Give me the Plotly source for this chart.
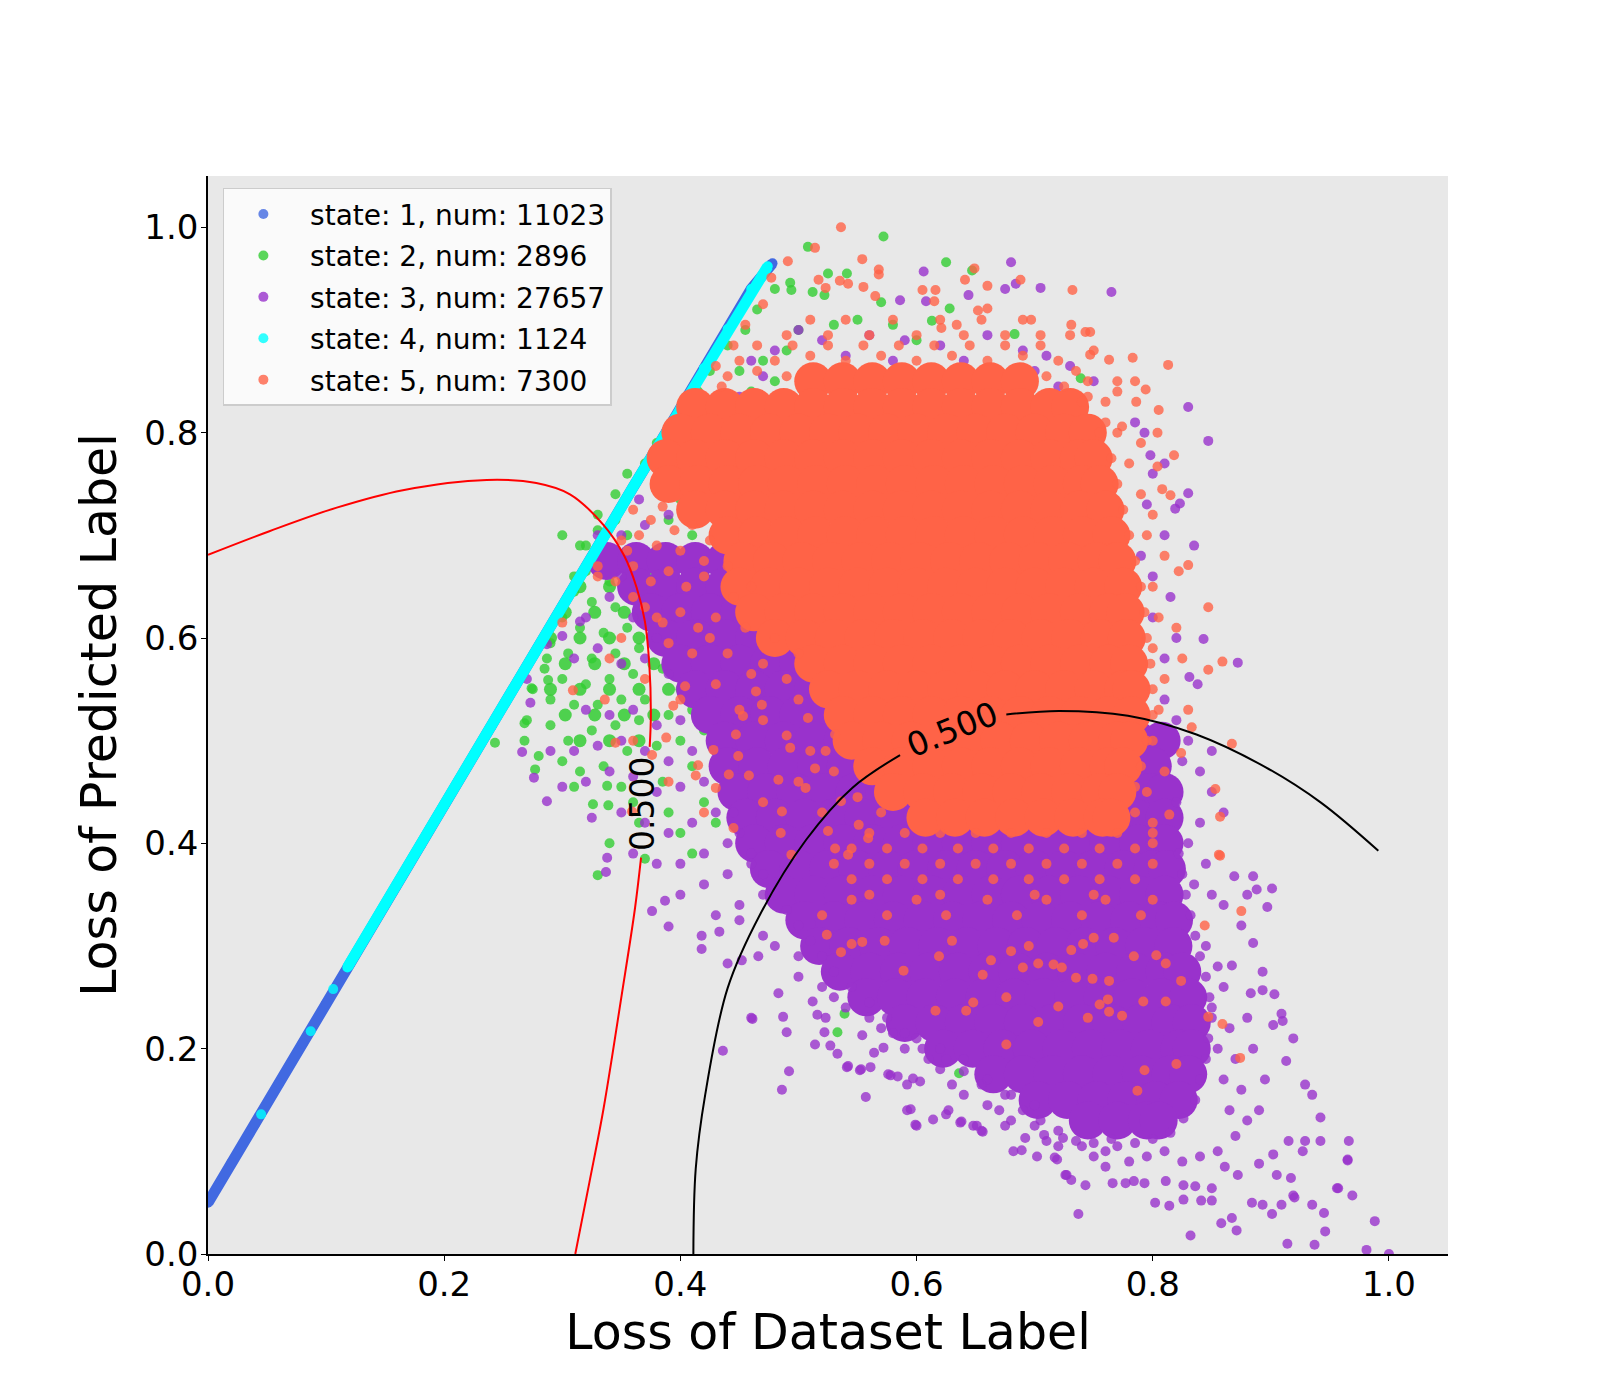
import plotly.graph_objects as go

# ---- data ----
legend_names = ["state: 1, num: 11023", "state: 2, num: 2896", "state: 3, num: 27657",
                "state: 4, num: 1124", "state: 5, num: 7300"]
colors = ["#4169E1", "#32CD32", "#9932CC", "#00FFFF", "#FF6347"]

tick_vals = [0.0, 0.2, 0.4, 0.6, 0.8, 1.0]
tick_text = ["0.0", "0.2", "0.4", "0.6", "0.8", "1.0"]

# state 1: the thin diagonal band (blue)
s1_x = [0.0, 0.02, 0.04, 0.06, 0.08, 0.10, 0.12, 0.14, 0.16, 0.18, 0.20, 0.22, 0.24,
        0.26, 0.28, 0.30, 0.32, 0.34, 0.36, 0.38, 0.40, 0.42, 0.44, 0.46, 0.478]
s1_y = [0.05, 0.089, 0.127, 0.166, 0.205, 0.244, 0.282, 0.321, 0.36, 0.398, 0.437, 0.476, 0.514,
        0.553, 0.592, 0.631, 0.669, 0.708, 0.747, 0.785, 0.824, 0.863, 0.901, 0.94, 0.965]

# state 4: the cyan band on top of it
s4_x = [0.118, 0.14, 0.16, 0.18, 0.20, 0.22, 0.24, 0.26, 0.28, 0.30, 0.32, 0.34,
        0.36, 0.38, 0.40, 0.42, 0.44, 0.46, 0.474]
s4_y = [0.279, 0.321, 0.36, 0.398, 0.437, 0.476, 0.514, 0.553, 0.592, 0.631, 0.669, 0.708,
        0.747, 0.785, 0.824, 0.863, 0.901, 0.94, 0.962]
s4_dots = [(0.087, 0.217), (0.045, 0.136), (0.106, 0.258)]

# state 2 (green): the crowded part as rows (y, xs), then loose points
s2_core = [
    (0.65, [0.315, 0.34]),
    (0.625, [0.3025, 0.3275, 0.3525]),
    (0.60, [0.29, 0.315, 0.34, 0.365]),
    (0.575, [0.3025, 0.3275, 0.3525, 0.3775]),
    (0.55, [0.29, 0.315, 0.34, 0.365, 0.39]),
    (0.525, [0.3025, 0.3275, 0.3525, 0.3775]),
    (0.50, [0.315, 0.34, 0.365]),
]
s2_dots = [
    (0.572, 0.991), (0.508, 0.981), (0.625, 0.966), (0.647, 0.958), (0.525, 0.955), (0.541, 0.955),
    (0.493, 0.946), (0.494, 0.939), (0.512, 0.937), (0.522, 0.934), (0.570, 0.927), (0.628, 0.921),
    (0.613, 0.909), (0.683, 0.896), (0.739, 0.853),
    (0.48, 0.94), (0.465, 0.92), (0.455, 0.90), (0.44, 0.885), (0.425, 0.86), (0.415, 0.84), (0.40, 0.82),
    (0.39, 0.80), (0.38, 0.79), (0.37, 0.77), (0.355, 0.76), (0.345, 0.74), (0.33, 0.72), (0.32, 0.69),
    (0.31, 0.66), (0.50, 0.90), (0.53, 0.905), (0.55, 0.91), (0.58, 0.905), (0.60, 0.89), (0.49, 0.88),
    (0.47, 0.87), (0.45, 0.86), (0.48, 0.85), (0.46, 0.84), (0.44, 0.83), (0.43, 0.81), (0.45, 0.80),
    (0.42, 0.79), (0.44, 0.77), (0.41, 0.76), (0.43, 0.745), (0.40, 0.735), (0.42, 0.72), (0.39, 0.715),
    (0.41, 0.70),
    (0.300, 0.700), (0.315, 0.690), (0.330, 0.705), (0.345, 0.715), (0.355, 0.70), (0.335, 0.68),
    (0.350, 0.675), (0.365, 0.685), (0.320, 0.665), (0.340, 0.655), (0.36, 0.655), (0.375, 0.665),
    (0.31, 0.645), (0.325, 0.635), (0.345, 0.63), (0.37, 0.635), (0.385, 0.64), (0.30, 0.62),
    (0.315, 0.61), (0.335, 0.605), (0.355, 0.61), (0.38, 0.615), (0.395, 0.62), (0.29, 0.595),
    (0.305, 0.585), (0.325, 0.58), (0.345, 0.585), (0.365, 0.59), (0.39, 0.59), (0.285, 0.57),
    (0.30, 0.56), (0.32, 0.555), (0.34, 0.56), (0.36, 0.565), (0.385, 0.57), (0.275, 0.55),
    (0.29, 0.54), (0.31, 0.535), (0.33, 0.535), (0.35, 0.54), (0.37, 0.54), (0.40, 0.55), (0.27, 0.52),
    (0.29, 0.515), (0.305, 0.50), (0.325, 0.51), (0.345, 0.515), (0.365, 0.52), (0.39, 0.525),
    (0.41, 0.53), (0.268, 0.50), (0.28, 0.485), (0.30, 0.48), (0.315, 0.47), (0.335, 0.475),
    (0.355, 0.49), (0.38, 0.495), (0.40, 0.50), (0.42, 0.51), (0.277, 0.472), (0.31, 0.455),
    (0.338, 0.456), (0.35, 0.455), (0.326, 0.438), (0.339, 0.437), (0.36, 0.44), (0.385, 0.46),
    (0.41, 0.475), (0.43, 0.49), (0.33, 0.369), (0.34, 0.40), (0.365, 0.42), (0.39, 0.43), (0.40, 0.41),
    (0.42, 0.44), (0.44, 0.46), (0.45, 0.48), (0.37, 0.385), (0.41, 0.39), (0.43, 0.42), (0.243, 0.498),
    (0.268, 0.517), (0.274, 0.551), (0.288, 0.559), (0.287, 0.58),
    (0.40, 0.57), (0.42, 0.58), (0.44, 0.60), (0.43, 0.55), (0.45, 0.56), (0.46, 0.60), (0.41, 0.62),
    (0.43, 0.64), (0.45, 0.66), (0.47, 0.68), (0.44, 0.70), (0.46, 0.72),
    (0.539, 0.234), (0.533, 0.216), (0.636, 0.176),
]

# state 3 (purple): solid body as rows (y, xs), then the loose points
s3_core = [
    (0.675, [0.3375, 0.3625, 0.3875, 0.4125, 0.4375]),
    (0.65, [0.3625, 0.3875, 0.4125, 0.4375, 0.4625]),
    (0.625, [0.375, 0.40, 0.425, 0.45, 0.475]),
    (0.60, [0.3875, 0.4125, 0.4375, 0.4625, 0.4875]),
    (0.575, [0.40, 0.425, 0.45, 0.475, 0.50, 0.525]),
    (0.55, [0.4125, 0.4375, 0.4625, 0.4875, 0.5125, 0.5375]),
    (0.525, [0.425, 0.45, 0.475, 0.50, 0.525, 0.55]),
    (0.50, [0.4375, 0.4625, 0.4875, 0.5125, 0.5375, 0.5625, 0.7875, 0.8075]),
    (0.475, [0.44, 0.465, 0.49, 0.515, 0.54, 0.565, 0.59, 0.775, 0.80]),
    (0.45, [0.4475, 0.4725, 0.4975, 0.5225, 0.5475, 0.5725, 0.5975, 0.7725, 0.7975, 0.81]),
    (0.425, [0.455, 0.48, 0.505, 0.53, 0.555, 0.58, 0.605, 0.63, 0.76, 0.785, 0.81]),
    (0.40, [0.4625, 0.4875, 0.5125, 0.5375, 0.5625, 0.5875, 0.6125, 0.6375, 0.6625, 0.6875, 0.7125,
            0.7375, 0.7625, 0.7875, 0.81]),
    (0.375, [0.475, 0.50, 0.525, 0.55, 0.575, 0.60, 0.625, 0.65, 0.675, 0.70, 0.725, 0.75, 0.775,
             0.80, 0.812]),
    (0.35, [0.4875, 0.5125, 0.5375, 0.5625, 0.5875, 0.6125, 0.6375, 0.6625, 0.6875, 0.7125, 0.7375,
            0.7625, 0.7875, 0.81]),
    (0.325, [0.505, 0.53, 0.555, 0.58, 0.605, 0.63, 0.655, 0.68, 0.705, 0.73, 0.755, 0.78, 0.805, 0.818]),
    (0.30, [0.5175, 0.5425, 0.5675, 0.5925, 0.6175, 0.6425, 0.6675, 0.6925, 0.7175, 0.7425, 0.7675,
            0.7925, 0.8175]),
    (0.275, [0.535, 0.56, 0.585, 0.61, 0.635, 0.66, 0.685, 0.71, 0.735, 0.76, 0.785, 0.81, 0.825]),
    (0.25, [0.5575, 0.5825, 0.6075, 0.6325, 0.6575, 0.6825, 0.7075, 0.7325, 0.7575, 0.7825, 0.8075, 0.83]),
    (0.225, [0.59, 0.615, 0.64, 0.665, 0.69, 0.715, 0.74, 0.765, 0.79, 0.815, 0.833]),
    (0.20, [0.6225, 0.6475, 0.6725, 0.6975, 0.7225, 0.7475, 0.7725, 0.7975, 0.8225, 0.833]),
    (0.175, [0.665, 0.69, 0.715, 0.74, 0.765, 0.79, 0.815, 0.83]),
    (0.15, [0.7025, 0.7275, 0.7525, 0.7775, 0.8025, 0.822]),
    (0.13, [0.745, 0.77, 0.795, 0.805]),
]
s3_dots = [
    (0.606, 0.957), (0.586, 0.929), (0.608, 0.928), (0.680, 0.966), (0.705, 0.941), (0.765, 0.937),
    (0.675, 0.94), (0.684, 0.945), (0.644, 0.934),
    (0.50, 0.90), (0.52, 0.89), (0.56, 0.895), (0.59, 0.89), (0.62, 0.885), (0.66, 0.895), (0.69, 0.88),
    (0.71, 0.875), (0.73, 0.865), (0.75, 0.85), (0.48, 0.88), (0.46, 0.87), (0.54, 0.875), (0.58, 0.87),
    (0.64, 0.87), (0.70, 0.86), (0.72, 0.845), (0.47, 0.855), (0.45, 0.835),
    (0.830, 0.825), (0.847, 0.792), (0.785, 0.81), (0.793, 0.80), (0.798, 0.778), (0.830, 0.741),
    (0.823, 0.731), (0.819, 0.726), (0.835, 0.69), (0.843, 0.599), (0.872, 0.576), (0.838, 0.555),
    (0.831, 0.562), (0.80, 0.76), (0.81, 0.70), (0.80, 0.66), (0.815, 0.64), (0.82, 0.60), (0.81, 0.58),
    (0.82, 0.52), (0.83, 0.50), (0.84, 0.47), (0.85, 0.45), (0.86, 0.43), (0.80, 0.62), (0.79, 0.68),
    (0.795, 0.73), (0.81, 0.77), (0.81, 0.54), (0.825, 0.48), (0.85, 0.49), (0.82, 0.44), (0.84, 0.42),
    (0.83, 0.40), (0.845, 0.38),
    (0.869, 0.368), (0.885, 0.368), (0.901, 0.356), (0.888, 0.355), (0.880, 0.350), (0.897, 0.338),
    (0.885, 0.303), (0.893, 0.275), (0.867, 0.281), (0.903, 0.253), (0.893, 0.257), (0.883, 0.254),
    (0.909, 0.234), (0.910, 0.227), (0.902, 0.223), (0.919, 0.21), (0.913, 0.188), (0.929, 0.165),
    (0.935, 0.155), (0.942, 0.133), (0.966, 0.11), (0.965, 0.092), (0.969, 0.057), (0.956, 0.064),
    (0.945, 0.040), (0.935, 0.048), (0.902, 0.097), (0.915, 0.11), (0.929, 0.11), (0.942, 0.11),
    (0.905, 0.077), (0.917, 0.074), (0.927, 0.10), (0.884, 0.05), (0.893, 0.048), (0.909, 0.048),
    (0.919, 0.057), (0.858, 0.030), (0.867, 0.035), (0.871, 0.023), (0.832, 0.018), (0.802, 0.05),
    (0.814, 0.047), (0.826, 0.053), (0.841, 0.052), (0.850, 0.052), (0.737, 0.039), (0.766, 0.069),
    (0.777, 0.069), (0.784, 0.071), (0.793, 0.069), (0.743, 0.067), (0.719, 0.092), (0.727, 0.077),
    (0.731, 0.072), (0.811, 0.071), (0.826, 0.067), (0.836, 0.066), (0.850, 0.064), (0.861, 0.085),
    (0.872, 0.077), (1.0, 0.0), (0.981, 0.004), (0.988, 0.032), (0.946, 0.022), (0.937, 0.009),
    (0.914, 0.010), (0.957, 0.064), (0.920, 0.055), (0.901, 0.039), (0.965, 0.091), (0.89, 0.088),
    (0.845, 0.30), (0.855, 0.28), (0.86, 0.26), (0.85, 0.24), (0.865, 0.22), (0.855, 0.20), (0.87, 0.19),
    (0.86, 0.17), (0.875, 0.16), (0.865, 0.14), (0.88, 0.13), (0.87, 0.115), (0.855, 0.10), (0.84, 0.095),
    (0.825, 0.09), (0.81, 0.10), (0.795, 0.095), (0.78, 0.09), (0.76, 0.085), (0.75, 0.095), (0.89, 0.14),
    (0.895, 0.17), (0.885, 0.20), (0.88, 0.23), (0.875, 0.32), (0.86, 0.34), (0.85, 0.35), (0.835, 0.36),
    (0.682, 0.10), (0.689, 0.101), (0.702, 0.095), (0.717, 0.094), (0.726, 0.077), (0.692, 0.113),
    (0.708, 0.116), (0.724, 0.113), (0.595, 0.141), (0.599, 0.126), (0.625, 0.136), (0.638, 0.129),
    (0.651, 0.125), (0.655, 0.120), (0.675, 0.125), (0.557, 0.153), (0.542, 0.183), (0.552, 0.179),
    (0.561, 0.182), (0.578, 0.174), (0.584, 0.173), (0.592, 0.165), (0.597, 0.171), (0.603, 0.168),
    (0.514, 0.204), (0.533, 0.195), (0.516, 0.233), (0.523, 0.23), (0.512, 0.246), (0.554, 0.213),
    (0.564, 0.196), (0.572, 0.201), (0.461, 0.229), (0.486, 0.16), (0.492, 0.178), (0.418, 0.297),
    (0.418, 0.310), (0.433, 0.314), (0.45, 0.325), (0.44, 0.283), (0.452, 0.286), (0.466, 0.290),
    (0.483, 0.254), (0.487, 0.231), (0.49, 0.216), (0.522, 0.216), (0.527, 0.203), (0.541, 0.182),
    (0.553, 0.18), (0.576, 0.175), (0.60, 0.125), (0.592, 0.14), (0.614, 0.131), (0.627, 0.14),
    (0.637, 0.128), (0.648, 0.125), (0.656, 0.119), (0.376, 0.334), (0.39, 0.319), (0.436, 0.198),
    (0.46, 0.23), (0.387, 0.344), (0.338, 0.386), (0.337, 0.372),
    (0.47, 0.31), (0.48, 0.30), (0.50, 0.29), (0.50, 0.27), (0.52, 0.26), (0.53, 0.25), (0.54, 0.24),
    (0.56, 0.23), (0.57, 0.22), (0.58, 0.215), (0.59, 0.20), (0.61, 0.19), (0.62, 0.18), (0.63, 0.165),
    (0.64, 0.155), (0.66, 0.145), (0.67, 0.14), (0.68, 0.13), (0.70, 0.125), (0.71, 0.11), (0.72, 0.105),
    (0.74, 0.105), (0.76, 0.10), (0.77, 0.105), (0.60, 0.21), (0.62, 0.20), (0.64, 0.19), (0.66, 0.17),
    (0.68, 0.155), (0.70, 0.145),
    (0.735, 0.11), (0.75, 0.108), (0.765, 0.112), (0.785, 0.108), (0.80, 0.112), (0.815, 0.118),
    (0.826, 0.132), (0.836, 0.15), (0.84, 0.17), (0.845, 0.19), (0.847, 0.21), (0.85, 0.23),
    (0.848, 0.25), (0.845, 0.27), (0.84, 0.29), (0.836, 0.31), (0.832, 0.33), (0.828, 0.35),
    (0.825, 0.37), (0.822, 0.39), (0.72, 0.12), (0.705, 0.13), (0.69, 0.14), (0.675, 0.155),
    (0.655, 0.165), (0.64, 0.178), (0.625, 0.19), (0.605, 0.2), (0.59, 0.215), (0.575, 0.23),
    (0.56, 0.245), (0.545, 0.26), (0.53, 0.275), (0.52, 0.29), (0.51, 0.305), (0.50, 0.32),
    (0.49, 0.335), (0.48, 0.35), (0.47, 0.37), (0.46, 0.39), (0.45, 0.41), (0.445, 0.43),
    (0.325, 0.425), (0.287, 0.441), (0.276, 0.464), (0.266, 0.489), (0.270, 0.560), (0.273, 0.537),
    (0.287, 0.594), (0.300, 0.602), (0.315, 0.616),
    (0.30, 0.63), (0.32, 0.62), (0.34, 0.64), (0.36, 0.62), (0.38, 0.60), (0.31, 0.58), (0.33, 0.59),
    (0.35, 0.575), (0.37, 0.58), (0.39, 0.565), (0.32, 0.53), (0.34, 0.525), (0.36, 0.53), (0.38, 0.515),
    (0.40, 0.52), (0.29, 0.49), (0.31, 0.49), (0.33, 0.495), (0.35, 0.50), (0.37, 0.49), (0.39, 0.48),
    (0.41, 0.49), (0.30, 0.455), (0.32, 0.46), (0.34, 0.47), (0.36, 0.465), (0.38, 0.45), (0.40, 0.455),
    (0.42, 0.46), (0.35, 0.43), (0.37, 0.42), (0.39, 0.41), (0.41, 0.42), (0.43, 0.43), (0.36, 0.39),
    (0.38, 0.38), (0.40, 0.38), (0.42, 0.39), (0.44, 0.40), (0.40, 0.35), (0.42, 0.36), (0.44, 0.37),
    (0.46, 0.38), (0.43, 0.33), (0.45, 0.34), (0.47, 0.35), (0.35, 0.66), (0.33, 0.70),
    (0.35, 0.70), (0.37, 0.71), (0.39, 0.72), (0.365, 0.735), (0.385, 0.745),
]

# state 5 (orange): solid body as rows (y, xs), then loose points
s5_core = [
    (0.85, [0.5125, 0.5375, 0.5625, 0.5875, 0.6125, 0.6375, 0.6625, 0.6875]),
    (0.825, [0.4125, 0.4375, 0.4625, 0.4875, 0.5125, 0.5375, 0.5625, 0.5875, 0.6125, 0.6375, 0.6625,
             0.6875, 0.7125, 0.73]),
    (0.80, [0.40, 0.425, 0.45, 0.475, 0.50, 0.525, 0.55, 0.575, 0.60, 0.625, 0.65, 0.675, 0.70, 0.725,
            0.745]),
    (0.775, [0.3875, 0.4125, 0.4375, 0.4625, 0.4875, 0.5125, 0.5375, 0.5625, 0.5875, 0.6125, 0.6375,
             0.6625, 0.6875, 0.7125, 0.7375, 0.75]),
    (0.75, [0.39, 0.415, 0.44, 0.465, 0.49, 0.515, 0.54, 0.565, 0.59, 0.615, 0.64, 0.665, 0.69, 0.715,
            0.74, 0.755]),
    (0.725, [0.4125, 0.4375, 0.4625, 0.4875, 0.5125, 0.5375, 0.5625, 0.5875, 0.6125,
             0.6375, 0.6625, 0.6875, 0.7125, 0.7375, 0.76]),
    (0.70, [0.44, 0.465, 0.49, 0.515, 0.54, 0.565, 0.59, 0.615, 0.64, 0.665, 0.69,
            0.715, 0.74, 0.765]),
    (0.675, [0.4525, 0.4775, 0.5025, 0.5275, 0.5525, 0.5775, 0.6025, 0.6275, 0.6525, 0.6775, 0.7025,
             0.7275, 0.7525, 0.77]),
    (0.65, [0.45, 0.475, 0.50, 0.525, 0.55, 0.575, 0.60, 0.625, 0.65, 0.675, 0.70, 0.725, 0.75, 0.775]),
    (0.625, [0.4625, 0.4875, 0.5125, 0.5375, 0.5625, 0.5875, 0.6125, 0.6375, 0.6625, 0.6875, 0.7125,
             0.7375, 0.7625, 0.777]),
    (0.60, [0.48, 0.505, 0.53, 0.555, 0.58, 0.605, 0.63, 0.655, 0.68, 0.705, 0.73, 0.755, 0.778]),
    (0.575, [0.5125, 0.5375, 0.5625, 0.5875, 0.6125, 0.6375, 0.6625, 0.6875, 0.7125, 0.7375, 0.7625, 0.78]),
    (0.55, [0.525, 0.55, 0.575, 0.60, 0.625, 0.65, 0.675, 0.70, 0.725, 0.75, 0.775, 0.782]),
    (0.525, [0.5375, 0.5625, 0.5875, 0.6125, 0.6375, 0.6625, 0.6875, 0.7125, 0.7375, 0.7625, 0.782]),
    (0.50, [0.545, 0.57, 0.595, 0.62, 0.645, 0.67, 0.695, 0.72, 0.745, 0.77, 0.78]),
    (0.475, [0.5625, 0.5875, 0.6125, 0.6375, 0.6625, 0.6875, 0.7125, 0.7375, 0.7625, 0.775]),
    (0.45, [0.58, 0.605, 0.63, 0.655, 0.68, 0.705, 0.73, 0.755, 0.77]),
    (0.425, [0.6075, 0.6325, 0.6575, 0.6825, 0.7075, 0.7325, 0.7575, 0.765]),
]
s5_dots = [
    (0.536, 1.0), (0.514, 0.98), (0.554, 0.969), (0.568, 0.959), (0.568, 0.954), (0.517, 0.949),
    (0.523, 0.941), (0.555, 0.942), (0.535, 0.948), (0.542, 0.945), (0.565, 0.933), (0.605, 0.939),
    (0.616, 0.939), (0.615, 0.928), (0.649, 0.96), (0.732, 0.939), (0.491, 0.967), (0.477, 0.951),
    (0.66, 0.943), (0.641, 0.949), (0.688, 0.949),
    (0.783, 0.873), (0.813, 0.866), (0.805, 0.822), (0.804, 0.80), (0.818, 0.778), (0.804, 0.767),
    (0.794, 0.842), (0.786, 0.83), (0.774, 0.806), (0.763, 0.871), (0.747, 0.876), (0.731, 0.905),
    (0.743, 0.898), (0.747, 0.898), (0.697, 0.910), (0.660, 0.921), (0.652, 0.919), (0.621, 0.902),
    (0.634, 0.905), (0.51, 0.91), (0.54, 0.91), (0.58, 0.91), (0.62, 0.91), (0.655, 0.91), (0.69, 0.91),
    (0.49, 0.895), (0.525, 0.895), (0.56, 0.895), (0.60, 0.895), (0.64, 0.895), (0.675, 0.895),
    (0.705, 0.895), (0.73, 0.895), (0.745, 0.85), (0.77, 0.85), (0.785, 0.85), (0.76, 0.83),
    (0.77, 0.80), (0.75, 0.88),
    (0.45, 0.87), (0.48, 0.87), (0.51, 0.875), (0.54, 0.87), (0.57, 0.875), (0.60, 0.87), (0.63, 0.875),
    (0.66, 0.87), (0.69, 0.875), (0.72, 0.87), (0.465, 0.885), (0.495, 0.885), (0.525, 0.885),
    (0.555, 0.885), (0.585, 0.885), (0.615, 0.885), (0.645, 0.885), (0.675, 0.885), (0.705, 0.885),
    (0.44, 0.855), (0.465, 0.86), (0.735, 0.86), (0.745, 0.835), (0.435, 0.845), (0.49, 0.855),
    (0.71, 0.855), (0.725, 0.845),
    (0.755, 0.80), (0.765, 0.775), (0.77, 0.75), (0.775, 0.725), (0.78, 0.70), (0.785, 0.675),
    (0.79, 0.65), (0.793, 0.625), (0.795, 0.60), (0.798, 0.575), (0.80, 0.525), (0.795, 0.50),
    (0.79, 0.475), (0.785, 0.455),
    (0.815, 0.739), (0.808, 0.745), (0.830, 0.671), (0.822, 0.665), (0.847, 0.630), (0.859, 0.577),
    (0.847, 0.569), (0.867, 0.497), (0.853, 0.453), (0.856, 0.389), (0.875, 0.334), (0.814, 0.428),
    (0.824, 0.488), (0.833, 0.513), (0.857, 0.426), (0.857, 0.388), (0.844, 0.320), (0.847, 0.231),
    (0.859, 0.224), (0.874, 0.191), (0.824, 0.266), (0.811, 0.246), (0.792, 0.246), (0.820, 0.185),
    (0.793, 0.179), (0.787, 0.159), (0.676, 0.204), (0.703, 0.226), (0.72, 0.241), (0.745, 0.230),
    (0.763, 0.236), (0.774, 0.232), (0.755, 0.243), (0.762, 0.248), (0.648, 0.245), (0.642, 0.237),
    (0.616, 0.237), (0.589, 0.276), (0.619, 0.290), (0.656, 0.272), (0.676, 0.25),
    (0.690, 0.279), (0.703, 0.283), (0.716, 0.282), (0.723, 0.279), (0.735, 0.269), (0.749, 0.268),
    (0.763, 0.266), (0.767, 0.308), (0.75, 0.308), (0.741, 0.302), (0.731, 0.296), (0.695, 0.30),
    (0.68, 0.295), (0.663, 0.286), (0.63, 0.305), (0.573, 0.305), (0.554, 0.304), (0.545, 0.302),
    (0.536, 0.294), (0.524, 0.311), (0.803, 0.291), (0.811, 0.283), (0.784, 0.29),
    (0.545, 0.345), (0.60, 0.345), (0.66, 0.345), (0.71, 0.345), (0.76, 0.345), (0.80, 0.345),
    (0.52, 0.33), (0.575, 0.33), (0.625, 0.33), (0.685, 0.33), (0.74, 0.33), (0.79, 0.33),
    (0.56, 0.41), (0.59, 0.41), (0.62, 0.41), (0.65, 0.41), (0.68, 0.41), (0.71, 0.41), (0.74, 0.41),
    (0.77, 0.41), (0.545, 0.395), (0.575, 0.395), (0.605, 0.395), (0.635, 0.395), (0.665, 0.395),
    (0.695, 0.395), (0.725, 0.395), (0.755, 0.395), (0.785, 0.395), (0.53, 0.38), (0.56, 0.38),
    (0.59, 0.38), (0.62, 0.38), (0.65, 0.38), (0.68, 0.38), (0.71, 0.38), (0.74, 0.38), (0.77, 0.38),
    (0.80, 0.38), (0.545, 0.365), (0.575, 0.365), (0.605, 0.365), (0.635, 0.365), (0.665, 0.365),
    (0.695, 0.365), (0.725, 0.365), (0.755, 0.365), (0.785, 0.365), (0.56, 0.35), (0.62, 0.35),
    (0.70, 0.35), (0.75, 0.35), (0.80, 0.42), (0.80, 0.40),
    (0.30, 0.615), (0.33, 0.66), (0.43, 0.865), (0.445, 0.885), (0.455, 0.905), (0.47, 0.925),
    (0.365, 0.70), (0.38, 0.69), (0.395, 0.705), (0.35, 0.695), (0.375, 0.715), (0.40, 0.685),
    (0.42, 0.675), (0.44, 0.67), (0.36, 0.725), (0.385, 0.728), (0.41, 0.71), (0.425, 0.695),
    (0.33, 0.67), (0.345, 0.655), (0.36, 0.67), (0.375, 0.655), (0.39, 0.665), (0.405, 0.65),
    (0.42, 0.66), (0.37, 0.63), (0.385, 0.615), (0.40, 0.625), (0.415, 0.61), (0.43, 0.62), (0.39, 0.595),
    (0.41, 0.585), (0.425, 0.60), (0.44, 0.585), (0.455, 0.61), (0.445, 0.64), (0.46, 0.65), (0.355, 0.685),
    (0.36, 0.64), (0.38, 0.62), (0.35, 0.60), (0.34, 0.58), (0.37, 0.56), (0.40, 0.54), (0.43, 0.555),
    (0.45, 0.53), (0.47, 0.52), (0.49, 0.505), (0.51, 0.49), (0.53, 0.47), (0.55, 0.445), (0.57, 0.43),
    (0.36, 0.50), (0.39, 0.46), (0.42, 0.43), (0.445, 0.415), (0.47, 0.44), (0.50, 0.46), (0.52, 0.43),
    (0.485, 0.41), (0.47, 0.575), (0.49, 0.56), (0.50, 0.585), (0.48, 0.60), (0.46, 0.565), (0.50, 0.54),
    (0.309, 0.549), (0.336, 0.54), (0.345, 0.498), (0.359, 0.431), (0.376, 0.486), (0.388, 0.503),
    (0.394, 0.534), (0.404, 0.553), (0.415, 0.476), (0.413, 0.466), (0.428, 0.491), (0.43, 0.454),
    (0.441, 0.467), (0.449, 0.485), (0.453, 0.524), (0.447, 0.506), (0.458, 0.466), (0.464, 0.548),
    (0.469, 0.535), (0.483, 0.462), (0.486, 0.431), (0.493, 0.493), (0.494, 0.389), (0.506, 0.454),
    (0.514, 0.473), (0.523, 0.49), (0.531, 0.506), (0.508, 0.522), (0.525, 0.412), (0.536, 0.441),
    (0.551, 0.418), (0.531, 0.395), (0.542, 0.389), (0.559, 0.405),
    (0.79, 0.74), (0.80, 0.72), (0.795, 0.70), (0.81, 0.68), (0.80, 0.65), (0.805, 0.62), (0.80, 0.59),
    (0.81, 0.56), (0.805, 0.53), (0.80, 0.50), (0.81, 0.47), (0.795, 0.45), (0.785, 0.43), (0.80, 0.41),
    (0.82, 0.61), (0.825, 0.58), (0.83, 0.53), (0.78, 0.77), (0.79, 0.79), (0.76, 0.81), (0.74, 0.83),
    (0.77, 0.84), (0.80, 0.55),
]

# contour lines at level 0.500 (None = gap where matplotlib put the label)
red_x = [0.0, 0.052, 0.109, 0.165, 0.236, 0.278, 0.3065, 0.335, 0.352, 0.363, 0.370, 0.3737, 0.375,
         0.374, None, 0.3667, 0.3616, 0.350, 0.335, 0.323, 0.311]
red_y = [0.681, 0.704, 0.727, 0.744, 0.754, 0.751, 0.740, 0.710, 0.681, 0.649, 0.616, 0.574, 0.525,
         0.494, None, 0.386, 0.337, 0.25, 0.142, 0.07, 0.0]
black_x = [0.411, 0.413, 0.421, 0.440, 0.4676, 0.5065, 0.5455, 0.586, None, 0.676, 0.7206, 0.779,
           0.837, 0.8957, 0.9424, 0.991]
black_y = [0.0, 0.083, 0.155, 0.259, 0.331, 0.4035, 0.454, 0.486, None, 0.5255, 0.529, 0.5243,
           0.506, 0.474, 0.4396, 0.3927]
red_label = (0.368, 0.438)
black_label = (0.630, 0.511)


def unpack_rows(rows):
    xs, ys = [], []
    for y, row in rows:
        for x in row:
            xs.append(x)
            ys.append(y)
    return xs, ys


def unpack_pts(pts):
    return [p[0] for p in pts], [p[1] for p in pts]


FONT = "DejaVu Sans"
DOT = 10
CORE = 38
ALPHA = 0.8
pad = "\u00a0\u00a0\u00a0"

fig = go.Figure()


def add_markers(data, color, size, opacity, rows=False):
    x, y = unpack_rows(data) if rows else unpack_pts(data)
    fig.add_trace(go.Scatter(x=x, y=y, mode="markers", showlegend=False, hoverinfo="skip",
                             marker=dict(color=color, size=size, opacity=opacity)))


def add_band(xs, ys, color):
    fig.add_trace(go.Scatter(x=xs, y=ys, mode="lines+markers", showlegend=False, hoverinfo="skip",
                             line=dict(color=color, width=11), marker=dict(color=color, size=DOT)))


# drawn in the same order as the states
add_band(s1_x, s1_y, colors[0])
add_markers(s2_core, colors[1], 13, 0.85, rows=True)
add_markers(s2_dots, colors[1], DOT, ALPHA)
add_markers(s3_core, colors[2], CORE, 1, rows=True)
add_markers(s3_dots, colors[2], DOT, ALPHA)
add_band(s4_x, s4_y, colors[3])
add_markers(s4_dots, colors[3], DOT, ALPHA)
add_markers(s5_core, colors[4], CORE, 1, rows=True)
add_markers(s5_dots, colors[4], DOT, ALPHA)

# legend entries
for i in range(5):
    fig.add_trace(go.Scatter(x=[None], y=[None], mode="markers", name=pad + legend_names[i],
                             legendgroup="s%d" % (i + 1),
                             marker=dict(color=colors[i], size=DOT, opacity=ALPHA)))

# contour lines
fig.add_trace(go.Scatter(x=red_x, y=red_y, mode="lines", showlegend=False, hoverinfo="skip",
                         line=dict(color="red", width=2, shape="spline")))
fig.add_trace(go.Scatter(x=black_x, y=black_y, mode="lines", showlegend=False, hoverinfo="skip",
                         line=dict(color="black", width=2, shape="spline")))

fig.add_annotation(x=red_label[0], y=red_label[1], text="0.500", textangle=-90, showarrow=False,
                   font=dict(family=FONT, size=33, color="black"))
fig.add_annotation(x=black_label[0], y=black_label[1], text="0.500", textangle=-22, showarrow=False,
                   font=dict(family=FONT, size=33, color="black"))

axis_style = dict(range=[0, 1.05], tickvals=tick_vals, ticktext=tick_text, showgrid=False,
                  zeroline=False, showline=True, linecolor="black", linewidth=1.5,
                  ticks="outside", ticklen=5, tickwidth=1.2, tickcolor="black",
                  tickfont=dict(family=FONT, size=34, color="black"))

fig.update_layout(
    width=1600, height=1400,
    margin=dict(l=200, r=160, t=168, b=154),
    paper_bgcolor="white",
    plot_bgcolor="#e8e8e8",
    font=dict(family=FONT, color="black"),
    xaxis=dict(title=dict(text="Loss of Dataset Label", font=dict(size=49), standoff=10),
               ticklabelstandoff=-6, **axis_style),
    yaxis=dict(title=dict(text="Loss of Predicted Label", font=dict(size=49), standoff=12),
               ticklabelstandoff=-4, **axis_style),
    legend=dict(x=0.012, y=0.989, xanchor="left", yanchor="top", bgcolor="#fafafa",
                bordercolor="#cccccc", borderwidth=1.5, font=dict(family=FONT, size=28),
                indentation=19, tracegroupgap=2),
)

fig.write_html("out.html")
